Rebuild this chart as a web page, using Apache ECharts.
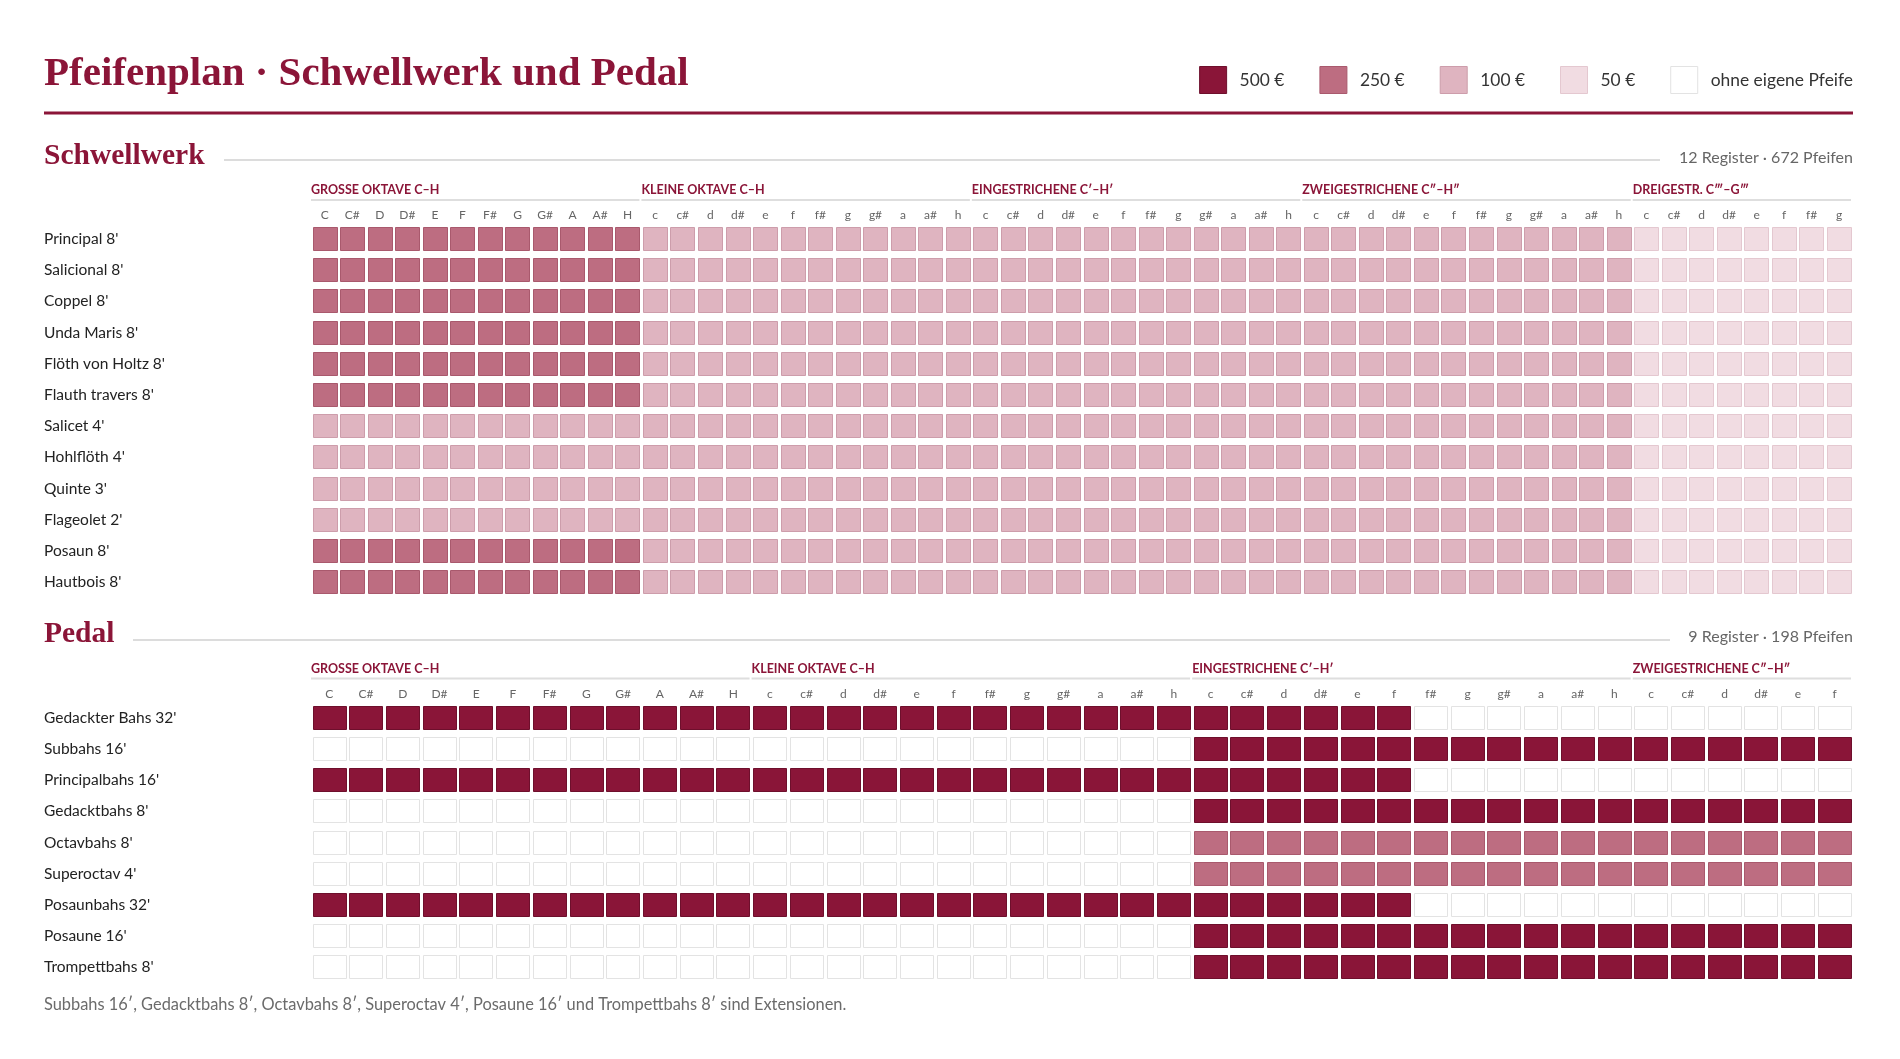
<!DOCTYPE html>
<html><head><meta charset="utf-8">
<script src="https://cdn.jsdelivr.net/npm/echarts@6/dist/echarts.min.js"></script>
<style>html,body{margin:0;padding:0;background:#fff}#c{width:1900px;height:1059px}</style>
</head><body><div id="c"></div>
<script>
// ---------- data ----------
const priceClasses = [500, 250, 100, 50, 0];
const priceNames = ['500 €', '250 €', '100 €', '50 €', 'ohne eigene Pfeife'];

const swNotes = ['C','C#','D','D#','E','F','F#','G','G#','A','A#','H',
  'c','c#','d','d#','e','f','f#','g','g#','a','a#','h',
  'c','c#','d','d#','e','f','f#','g','g#','a','a#','h',
  'c','c#','d','d#','e','f','f#','g','g#','a','a#','h',
  'c','c#','d','d#','e','f','f#','g'];
const pedNotes = ['C','C#','D','D#','E','F','F#','G','G#','A','A#','H',
  'c','c#','d','d#','e','f','f#','g','g#','a','a#','h',
  'c','c#','d','d#','e','f','f#','g','g#','a','a#','h',
  'c','c#','d','d#','e','f'];

const swGroups = [[0, 11, 'GROSSE OKTAVE C–H'], [12, 23, 'KLEINE OKTAVE C–H'], [24, 35, 'EINGESTRICHENE C′–H′'], [36, 47, 'ZWEIGESTRICHENE C″–H″'], [48, 55, 'DREIGESTR. C‴–G‴']];
const pedGroups = [[0, 11, 'GROSSE OKTAVE C–H'], [12, 23, 'KLEINE OKTAVE C–H'], [24, 35, 'EINGESTRICHENE C′–H′'], [36, 41, 'ZWEIGESTRICHENE C″–H″']];

const swRegisters = ["Principal 8'", "Salicional 8'", "Coppel 8'", "Unda Maris 8'", "Flöth von Holtz 8'", "Flauth travers 8'", "Salicet 4'", "Hohlflöth 4'", "Quinte 3'", "Flageolet 2'", "Posaun 8'", "Hautbois 8'"];
// runs: [price, number of keys], left to right
const swRuns = [
  [[250, 12], [100, 36], [50, 8]],
  [[250, 12], [100, 36], [50, 8]],
  [[250, 12], [100, 36], [50, 8]],
  [[250, 12], [100, 36], [50, 8]],
  [[250, 12], [100, 36], [50, 8]],
  [[250, 12], [100, 36], [50, 8]],
  [[100, 48], [50, 8]],
  [[100, 48], [50, 8]],
  [[100, 48], [50, 8]],
  [[100, 48], [50, 8]],
  [[250, 12], [100, 36], [50, 8]],
  [[250, 12], [100, 36], [50, 8]]
];

const pedRegisters = ["Gedackter Bahs 32'", "Subbahs 16'", "Principalbahs 16'", "Gedacktbahs 8'", "Octavbahs 8'", "Superoctav 4'", "Posaunbahs 32'", "Posaune 16'", "Trompettbahs 8'"];
const pedRuns = [
  [[500, 30], [0, 12]],
  [[0, 24], [500, 18]],
  [[500, 30], [0, 12]],
  [[0, 24], [500, 18]],
  [[0, 24], [250, 18]],
  [[0, 24], [250, 18]],
  [[500, 30], [0, 12]],
  [[0, 24], [500, 18]],
  [[0, 24], [500, 18]]
];

const footnote = 'Subbahs 16′, Gedacktbahs 8′, Octavbahs 8′, Superoctav 4′, Posaune 16′ und Trompettbahs 8′ sind Extensionen.';

// ---------- styles ----------
const fills = {500: '#8a1538', 250: '#bd6d81', 100: '#dfb4c0', 50: '#f1dce2', 0: '#ffffff'};
const strokes = {500: '#6e0f2c', 250: '#a9596d', 100: '#cd9dab', 50: '#e4c8d0', 0: '#e3e3e3'};
const SANS = 'Lato, "Noto Sans", sans-serif';
const SERIF = '"Liberation Serif", "DejaVu Serif", serif';
const RED = '#8b1538';

function expand(runs) {
  const out = [];
  runs.forEach(r => { for (let i = 0; i < r[1]; i++) out.push(r[0]); });
  return out;
}
const swMatrix = swRuns.map(expand);
const pedMatrix = pedRuns.map(expand);
function countPipes(m) { return m.reduce((s, row) => s + row.filter(v => v > 0).length, 0); }

function cellRenderer(price) {
  return function (params, api) {
    const c = api.coord([api.value(0), api.value(1)]);
    const band = api.size([1, 1]);
    const w = band[0] - 3, h = 24;
    return {
      type: 'rect',
      shape: {x: Math.round(c[0] - w / 2) + 0.5, y: Math.round(c[1] - h / 2) + 0.5, width: Math.round(w) - 1, height: h - 1},
      style: {fill: fills[price], stroke: strokes[price], lineWidth: 1}
    };
  };
}
function groupRenderer(params, api) {
  const s = api.value(0), e = api.value(1);
  const band = api.size([1, 1])[0];
  const x0 = api.coord([s, 0])[0] - band / 2;
  const x1 = api.coord([e, 0])[0] + band / 2;
  const top = params.coordSys.y;
  return {
    type: 'group',
    children: [
      {type: 'text', x: x0, y: top - 33.5, style: {text: api.value(2), fill: RED, font: 'bold 12.5px ' + SANS, verticalAlign: 'middle', align: 'left'}},
      {type: 'line', shape: {x1: x0, y1: top - 23.5, x2: x1 - 2, y2: top - 23.5}, style: {stroke: '#dedede', lineWidth: 2}}
    ]
  };
}

function buildSeries(matrix, gridIdx, groups) {
  const series = [];
  priceClasses.forEach((p, k) => {
    const data = [];
    matrix.forEach((row, y) => row.forEach((v, x) => { if (v === p) data.push([x, y, v]); }));
    series.push({
      type: 'custom', name: priceNames[k], xAxisIndex: gridIdx, yAxisIndex: gridIdx,
      renderItem: cellRenderer(p), data: data, silent: true,
      itemStyle: {color: fills[p], borderColor: strokes[p], borderWidth: 1},
      encode: {x: 0, y: 1}
    });
  });
  series.push({
    type: 'custom', name: 'groups' + gridIdx, xAxisIndex: gridIdx, yAxisIndex: gridIdx,
    renderItem: groupRenderer, clip: false, silent: true,
    data: groups, encode: {x: 0, y: -1}
  });
  return series;
}

const chart = echarts.init(document.getElementById('c'), null, {renderer: 'canvas'});

const xAxisCommon = {
  type: 'category', position: 'top',
  axisLine: {show: false}, axisTick: {show: false}, splitLine: {show: false},
  axisLabel: {color: '#666', fontFamily: SANS, fontSize: 12, margin: 2, interval: 0}
};
const yAxisCommon = {
  type: 'category', inverse: true,
  axisLine: {show: false}, axisTick: {show: false}, splitLine: {show: false},
  axisLabel: {color: '#222', fontFamily: SANS, fontSize: 15.5, align: 'left', margin: 267, interval: 0}
};

const option = {
  backgroundColor: '#fff',
  animation: false,
  title: [
    {text: 'Pfeifenplan · Schwellwerk und Pedal', left: 44, top: 54, padding: 0, textStyle: {fontFamily: SERIF, fontWeight: 'bold', fontSize: 41, color: RED}},
    {text: 'Schwellwerk', left: 44, top: 141, padding: 0, textStyle: {fontFamily: SERIF, fontWeight: 'bold', fontSize: 29.5, color: RED}},
    {text: swRegisters.length + ' Register · ' + countPipes(swMatrix) + ' Pfeifen', right: 47, top: 150, padding: 0, textStyle: {fontFamily: SANS, fontWeight: 'normal', fontSize: 16, color: '#666'}},
    {text: 'Pedal', left: 44, top: 619.5, padding: 0, textStyle: {fontFamily: SERIF, fontWeight: 'bold', fontSize: 29.5, color: RED}},
    {text: pedRegisters.length + ' Register · ' + countPipes(pedMatrix) + ' Pfeifen', right: 47, top: 629, padding: 0, textStyle: {fontFamily: SANS, fontWeight: 'normal', fontSize: 16, color: '#666'}},
    {text: footnote, left: 44, top: 997, padding: 0, textStyle: {fontFamily: SANS, fontWeight: 'normal', fontSize: 16.4, color: '#6b6b6b'}}
  ],
  legend: {
    right: 47, top: 66, padding: 0, orient: 'horizontal', selectedMode: false,
    itemWidth: 27, itemHeight: 27, itemGap: 35, icon: 'rect',
    textStyle: {fontFamily: SANS, fontSize: 17.4, color: '#333', padding: [0, 0, 0, 8]},
    data: priceNames.map((n, k) => ({name: n, itemStyle: {color: fills[priceClasses[k]], borderColor: strokes[priceClasses[k]], borderWidth: 1}}))
  },
  graphic: [
    {type: 'line', shape: {x1: 44, y1: 113, x2: 1853, y2: 113}, style: {stroke: RED, lineWidth: 3}},
    {type: 'line', shape: {x1: 224, y1: 160, x2: 1660, y2: 160}, style: {stroke: '#dcdcdc', lineWidth: 2}},
    {type: 'line', shape: {x1: 133, y1: 640, x2: 1670, y2: 640}, style: {stroke: '#dcdcdc', lineWidth: 2}}
  ],
  grid: [
    {left: 311, right: 47, top: 223.4, height: 374.4},
    {left: 311, right: 47, top: 702, height: 281}
  ],
  xAxis: [
    Object.assign({}, xAxisCommon, {gridIndex: 0, data: swNotes}),
    Object.assign({}, xAxisCommon, {gridIndex: 1, data: pedNotes})
  ],
  yAxis: [
    Object.assign({}, yAxisCommon, {gridIndex: 0, data: swRegisters}),
    Object.assign({}, yAxisCommon, {gridIndex: 1, data: pedRegisters})
  ],
  series: buildSeries(swMatrix, 0, swGroups).concat(buildSeries(pedMatrix, 1, pedGroups))
};
chart.setOption(option);
</script></body></html>
